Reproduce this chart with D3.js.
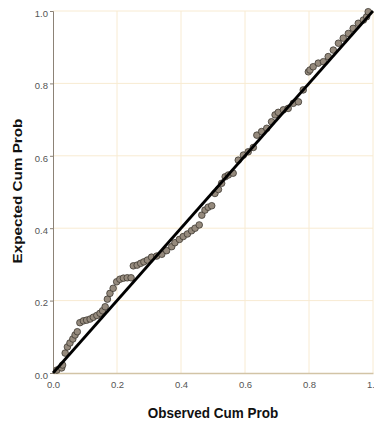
<!DOCTYPE html>
<html>
<head>
<meta charset="utf-8">
<script src="https://cdn.jsdelivr.net/npm/d3@7"></script>
<style>
  body { margin: 0; background: #fff; }
  svg { display: block; }
</style>
</head>
<body>
<div id="chart"></div>
<script>
// observed vs expected cumulative probability
const observed = [0.012, 0.027, 0.030, 0.038, 0.045, 0.053, 0.062, 0.069, 0.076, 0.084,
  0.095, 0.105, 0.116, 0.126, 0.137, 0.147, 0.155, 0.163, 0.170, 0.178,
  0.188, 0.199, 0.209, 0.220, 0.232, 0.244, 0.251, 0.263, 0.274, 0.284,
  0.295, 0.308, 0.324, 0.340, 0.355, 0.371, 0.381, 0.395, 0.407, 0.420,
  0.433, 0.444, 0.457, 0.465, 0.475, 0.485, 0.496, 0.506, 0.517, 0.527,
  0.538, 0.548, 0.563, 0.579, 0.595, 0.610, 0.626, 0.637, 0.652, 0.668,
  0.683, 0.694, 0.704, 0.720, 0.735, 0.751, 0.767, 0.782, 0.798, 0.803,
  0.813, 0.829, 0.845, 0.860, 0.876, 0.892, 0.907, 0.923, 0.938, 0.954,
  0.970, 0.980, 0.985];
const expected = [0.008, 0.014, 0.022, 0.055, 0.072, 0.083, 0.094, 0.105, 0.114, 0.139,
  0.144, 0.146, 0.149, 0.154, 0.159, 0.165, 0.172, 0.183, 0.204, 0.220,
  0.234, 0.252, 0.259, 0.262, 0.263, 0.263, 0.296, 0.298, 0.303, 0.307,
  0.312, 0.320, 0.323, 0.328, 0.338, 0.349, 0.360, 0.369, 0.377, 0.384,
  0.393, 0.400, 0.409, 0.436, 0.450, 0.458, 0.462, 0.496, 0.507, 0.524,
  0.542, 0.547, 0.552, 0.588, 0.602, 0.611, 0.623, 0.657, 0.667, 0.676,
  0.694, 0.713, 0.720, 0.727, 0.731, 0.745, 0.749, 0.782, 0.832, 0.837,
  0.846, 0.856, 0.860, 0.874, 0.892, 0.911, 0.925, 0.938, 0.952, 0.966,
  0.975, 0.984, 0.998];
const tickValues = [0, 0.2, 0.4, 0.6, 0.8, 1.0];
const diagonal = [0, 1];

const width = 374, height = 423;
const marginLeft = 53, marginTop = 11, plotW = 320, plotH = 362;

const svg = d3.select("#chart").append("svg")
  .attr("width", width)
  .attr("height", height);

const x = d3.scaleLinear().domain([0, 1]).range([marginLeft, marginLeft + plotW]);
const y = d3.scaleLinear().domain([0, 1]).range([marginTop + plotH, marginTop]);

// grid lines
svg.append("g")
  .selectAll("line")
  .data(tickValues.slice(1))
  .join("line")
  .attr("x1", d => x(d)).attr("x2", d => x(d))
  .attr("y1", y(0)).attr("y2", y(1))
  .attr("stroke", "#f8ebd2")
  .attr("stroke-width", 1);

svg.append("g")
  .selectAll("line")
  .data(tickValues.slice(1))
  .join("line")
  .attr("y1", d => y(d)).attr("y2", d => y(d))
  .attr("x1", x(0)).attr("x2", x(1))
  .attr("stroke", "#f8ebd2")
  .attr("stroke-width", 1);

// axes
const xAxis = svg.append("g")
  .attr("transform", "translate(0," + y(0) + ")")
  .call(d3.axisBottom(x).tickValues(tickValues).tickFormat(d3.format(".1f")).tickSize(0).tickPadding(8));
xAxis.select(".domain").attr("stroke", "#d2c4a6").attr("stroke-width", 1.5);

const yAxis = svg.append("g")
  .attr("transform", "translate(" + x(0) + ",0)")
  .call(d3.axisLeft(y).tickValues(tickValues).tickFormat(d3.format(".1f")).tickSize(3).tickPadding(2));
yAxis.select(".domain").attr("stroke", "#8c8276").attr("stroke-width", 1);
yAxis.selectAll(".tick line").attr("stroke", "#8c8276");
yAxis.selectAll(".tick text").attr("dy", "0.55em");

svg.selectAll(".tick text")
  .attr("font-family", "Arial, 'Liberation Sans', sans-serif")
  .attr("font-size", 9.5)
  .attr("fill", "#555");

// points
svg.append("g")
  .selectAll("circle")
  .data(observed.map((d, i) => [d, expected[i]]))
  .join("circle")
  .attr("cx", d => x(d[0]))
  .attr("cy", d => y(d[1]))
  .attr("r", 3.3)
  .attr("fill", "#958a7d")
  .attr("stroke", "#3e3831")
  .attr("stroke-width", 0.8);

// reference line
svg.append("line")
  .attr("x1", x(diagonal[0])).attr("y1", y(diagonal[0]))
  .attr("x2", x(diagonal[1])).attr("y2", y(diagonal[1]))
  .attr("stroke", "#000")
  .attr("stroke-width", 2.8);

// titles
svg.append("text")
  .attr("transform", "translate(" + (marginLeft + plotW / 2) + ",418) scale(1,1.13)")
  .attr("text-anchor", "middle")
  .attr("font-family", "Arial, 'Liberation Sans', sans-serif")
  .attr("font-weight", "bold")
  .attr("font-size", 13.5)
  .attr("fill", "#111")
  .text("Observed Cum Prob");

svg.append("text")
  .attr("transform", "translate(22,191) rotate(-90) scale(1.13,1)")
  .attr("text-anchor", "middle")
  .attr("font-family", "Arial, 'Liberation Sans', sans-serif")
  .attr("font-weight", "bold")
  .attr("font-size", 13.5)
  .attr("fill", "#111")
  .text("Expected Cum Prob");
</script>
</body>
</html>
